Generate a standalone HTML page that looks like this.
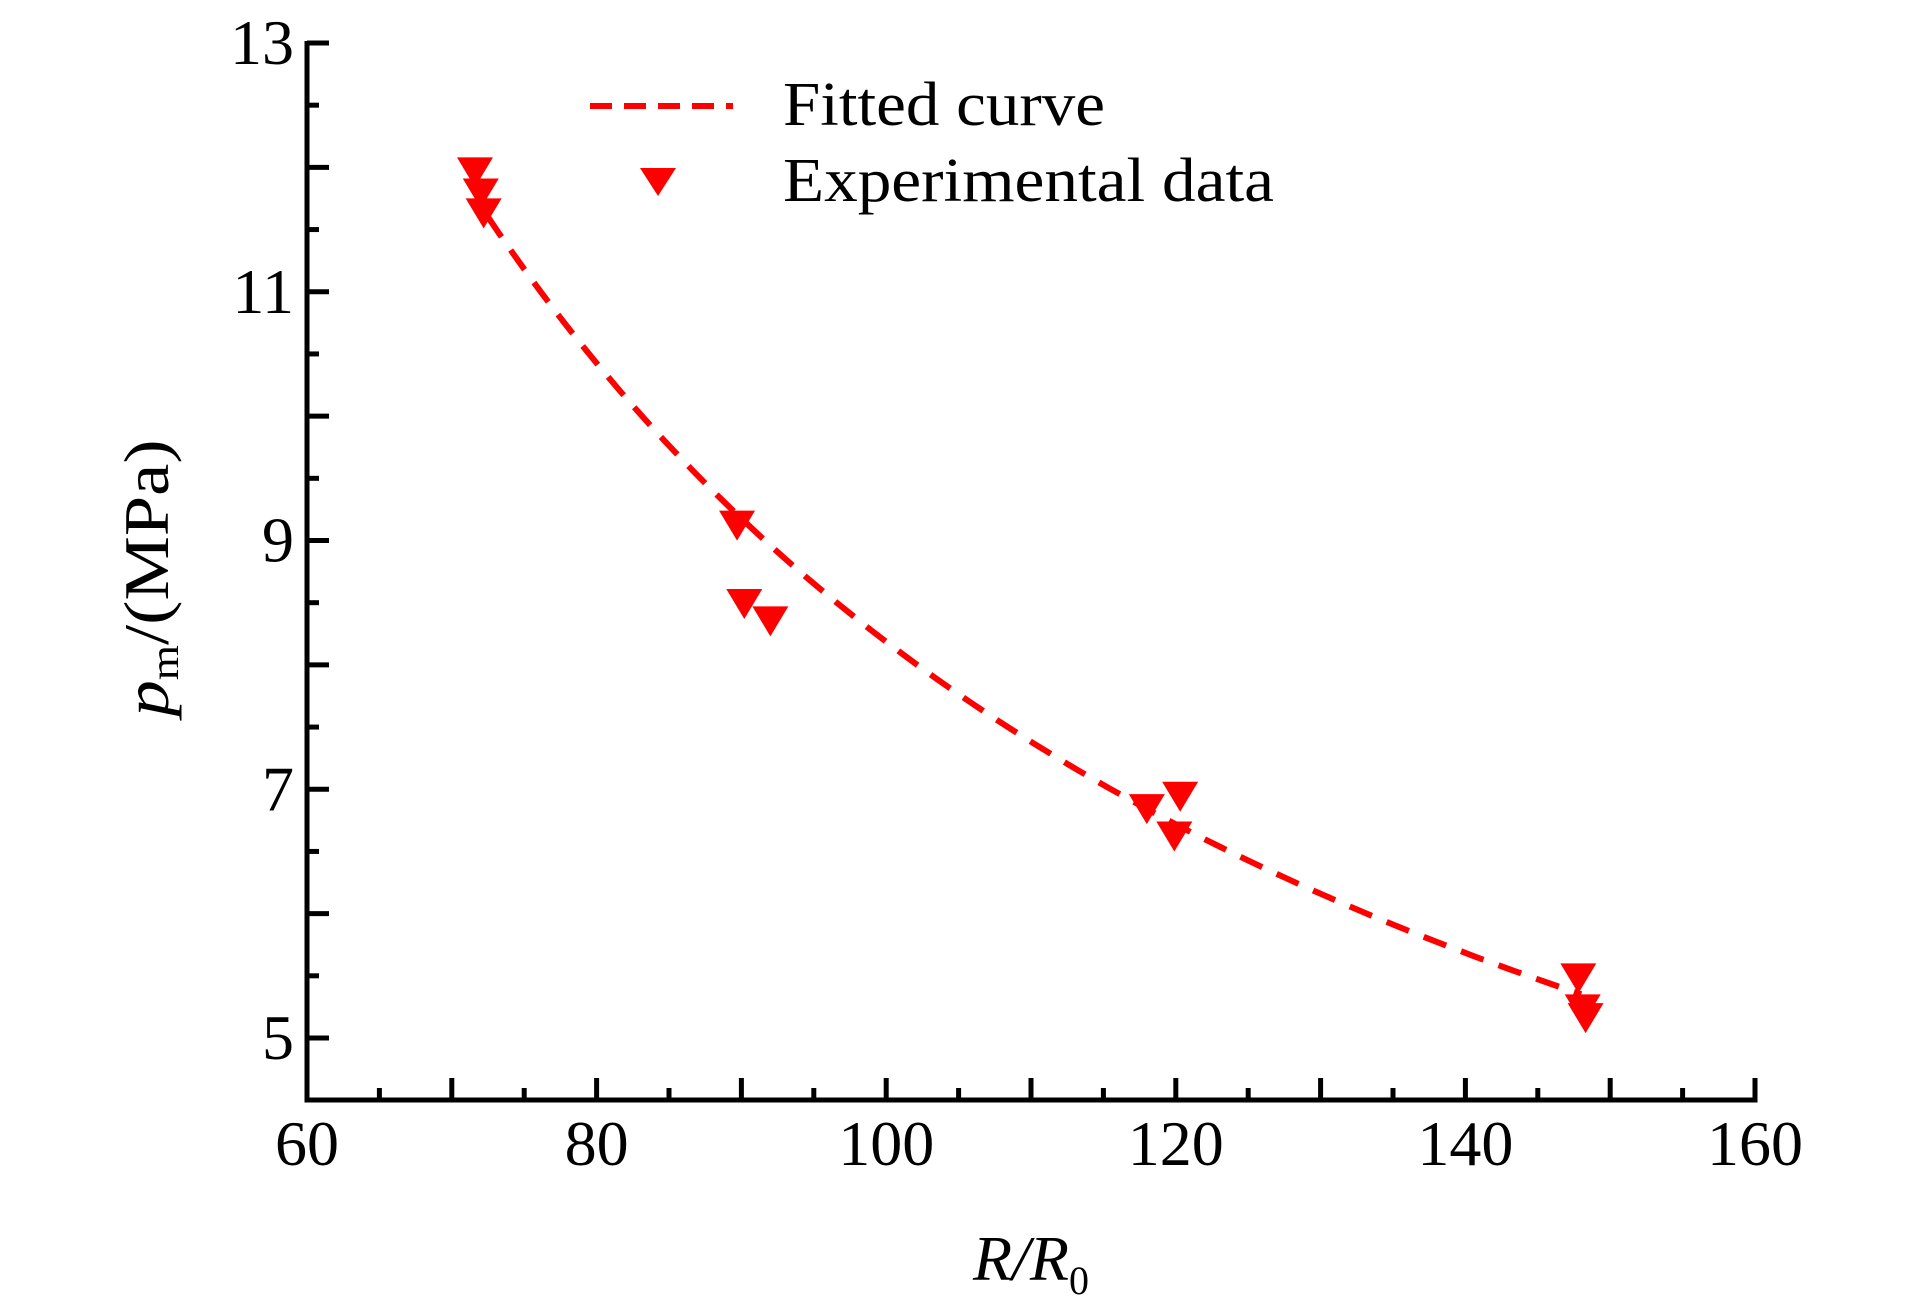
<!DOCTYPE html>
<html><head><meta charset="utf-8"><style>
html,body{margin:0;padding:0;background:#fff}
svg text{font-family:"Liberation Serif",serif;fill:#000}
</style></head><body>
<svg id="chart" width="1923" height="1299" viewBox="0 0 1923 1299" xmlns="http://www.w3.org/2000/svg">
<g id="axes"></g>
<g id="curve"></g>
<g id="points"></g>
<g id="legend">
  <line x1="590" y1="106" x2="733" y2="106" stroke="#ff0000" stroke-width="6" stroke-dasharray="22,12"/>
  <text x="783" y="125" font-size="62" textLength="322" lengthAdjust="spacingAndGlyphs">Fitted curve</text>
  <polygon points="640,168 676,168 658,196" fill="#ff0000"/>
  <text x="783" y="201" font-size="62" textLength="491" lengthAdjust="spacingAndGlyphs">Experimental data</text>
</g>
<text x="1031" y="1280" font-size="64" font-style="italic" text-anchor="middle">R/R<tspan font-size="40" font-style="normal" dy="14">0</tspan></text>
<text transform="translate(168,578) rotate(-90)" font-size="64" text-anchor="middle" textLength="277" lengthAdjust="spacingAndGlyphs"><tspan font-style="italic">p</tspan><tspan font-size="40" dy="10">m</tspan><tspan dy="-10">/(MPa)</tspan></text>
</svg>
<script>
const xTicks = [60, 80, 100, 120, 140, 160];
const yTicks = [5, 7, 9, 11, 13];
const expX = [71.6, 72.0, 72.2, 89.7, 90.2, 92.0, 118.0, 120.3, 119.9, 147.8, 148.1, 148.3];
const expY = [12.0, 11.83, 11.67, 9.16, 8.53, 8.39, 6.88, 6.98, 6.66, 5.52, 5.27, 5.2];
const fitRange = [72.5, 148];
const fitParams = [11.6, 72.5, -1.084]; // y = a*(x/x0)^b

const X0 = 307, X1 = 1755, Y0 = 1038, Y1 = 43;
const xMin = 60, xMax = 160, yMin = 5, yMax = 13;
const sx = v => X0 + (v - xMin) / (xMax - xMin) * (X1 - X0);
const sy = v => Y0 - (v - yMin) / (yMax - yMin) * (Y0 - Y1);
const NS = "http://www.w3.org/2000/svg";
function mk(tag, attrs, parent) {
  const e = document.createElementNS(NS, tag);
  for (const k in attrs) e.setAttribute(k, attrs[k]);
  parent.appendChild(e);
  return e;
}
const axes = document.getElementById('axes');
const BOTTOM = 1100;
let el = mk('line', {x1: X0, y1: 41, x2: X0, y2: BOTTOM + 2.5, stroke: '#000', 'stroke-width': 5}, axes);


el = mk('line', {x1: X0 - 2.5, y1: BOTTOM, x2: X1 + 2.5, y2: BOTTOM, stroke: '#000', 'stroke-width': 5}, axes);


for (let v = 65; v <= 160; v += 5) {
  const major = v % 10 === 0;
  el = mk('line', {x1: sx(v), y1: BOTTOM, x2: sx(v), y2: BOTTOM - (major ? 22 : 12), stroke: '#000', 'stroke-width': 5}, axes);
  
  
}
for (let v = 5; v <= 13; v += 0.5) {
  const major = v % 1 === 0;
  el = mk('line', {x1: X0, y1: sy(v), x2: X0 + (major ? 22 : 12), y2: sy(v), stroke: '#000', 'stroke-width': 5}, axes);
  
  
}
xTicks.forEach(v => {
  const t = mk('text', {x: sx(v), y: 1165, 'font-size': 64, 'text-anchor': 'middle'}, axes);
  t.textContent = v;
  
  
});
yTicks.forEach(v => {
  const t = mk('text', {x: 294, y: sy(v) + 21, 'font-size': 64, 'text-anchor': 'end'}, axes);
  t.textContent = v;
  
  
});
const curveG = document.getElementById('curve');
let d = '';
for (let i = 0; i <= 100; i++) {
  const x = fitRange[0] + (fitRange[1] - fitRange[0]) * i / 100;
  const y = fitParams[0] * Math.pow(x / fitParams[1], fitParams[2]);
  d += (i ? 'L' : 'M') + sx(x).toFixed(1) + ',' + sy(y).toFixed(1);
}
el = mk('path', {d: d, fill: 'none', stroke: '#ff0000', 'stroke-width': 6, 'stroke-dasharray': '24,16'}, curveG);


const ptsG = document.getElementById('points');
expX.forEach((x, i) => {
  const cx = sx(x), cy = sy(expY[i]);
  const p = mk('polygon', {points: `${cx-18},${cy-10} ${cx+18},${cy-10} ${cx},${cy+20}`, fill: '#ff0000'}, ptsG);
  
  
});
</script>
</body></html>
